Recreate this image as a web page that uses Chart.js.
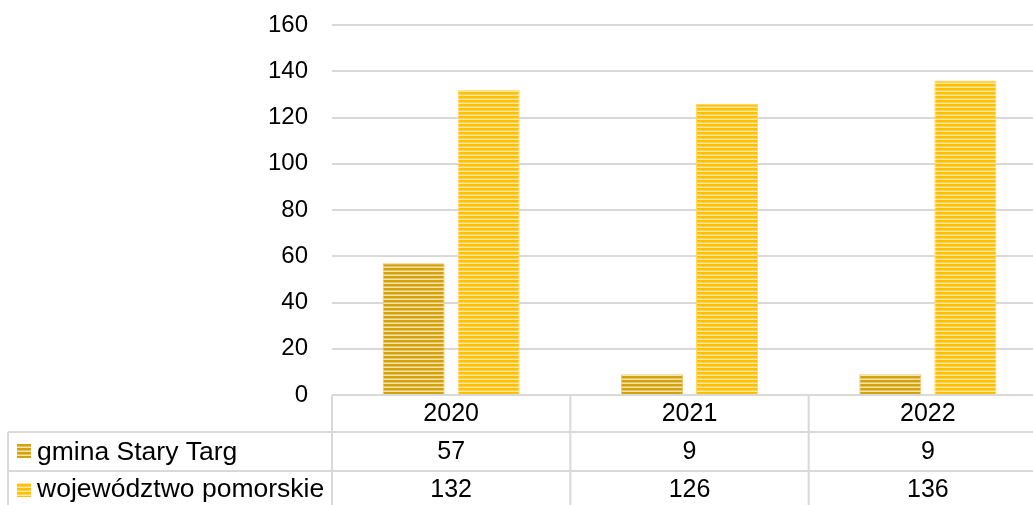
<!DOCTYPE html>
<html>
<head>
<meta charset="utf-8">
<script src="https://cdn.jsdelivr.net/npm/chart.js@4.4.1/dist/chart.umd.min.js"></script>
<style>
  html, body { margin: 0; padding: 0; background: #fff; overflow: hidden; }
  #wrap { width: 1048px; height: 505px; }
</style>
</head>
<body>
<div id="wrap"><canvas id="wykres" width="1048" height="505"></canvas></div>
<script>
// dane z wykresu
var lata = ['2020', '2021', '2022'];
var gminaNazwa = 'gmina Stary Targ';
var gmina = [57, 9, 9];
var wojNazwa = 'województwo pomorskie';
var wojewodztwo = [132, 126, 136];
var osMax = 160;
var osKrok = 20;

var czcionka = '"Liberation Sans", Arial, sans-serif';

// wzor paskow poziomych jak w Excelu
function paski(ciemny, sredni, jasny) {
  var c = document.createElement('canvas');
  c.width = 4; c.height = 4;
  var x = c.getContext('2d');
  x.fillStyle = ciemny; x.fillRect(0, 0, 4, 2);
  x.fillStyle = sredni; x.fillRect(0, 2, 4, 1);
  x.fillStyle = jasny; x.fillRect(0, 3, 4, 1);
  return document.getElementById('wykres').getContext('2d').createPattern(c, 'repeat');
}
var wzorGmina = paski('#D3A10E', '#E6C560', '#F4E2A8');
var wzorWoj = paski('#FFC000', '#FFD04D', '#FFE8A3');

var tabela = {
  id: 'tabela',
  afterDraw: function(chart) {
    var ctx = chart.ctx;
    var xs = chart.scales.x;
    var dol = chart.chartArea.bottom;
    var lewy = chart.chartArea.left;
    var prawy = chart.chartArea.right;
    var pol = (xs.getPixelForValue(1) - xs.getPixelForValue(0)) / 2;
    var r1 = dol + 37, r2 = dol + 76, koniec = chart.height + 5;
    ctx.save();
    ctx.strokeStyle = '#D9D9D9';
    ctx.lineWidth = 2;
    ctx.beginPath();
    ctx.moveTo(lewy, dol); ctx.lineTo(prawy, dol);
    ctx.moveTo(8, r1); ctx.lineTo(prawy, r1);
    ctx.moveTo(8, r2); ctx.lineTo(prawy, r2);
    ctx.moveTo(8, r1); ctx.lineTo(8, koniec);
    for (var i = 0; i < lata.length; i++) {
      var xl = xs.getPixelForValue(i) - pol;
      ctx.moveTo(xl, dol); ctx.lineTo(xl, koniec);
    }
    ctx.moveTo(prawy, dol); ctx.lineTo(prawy, koniec);
    ctx.stroke();

    ctx.fillStyle = '#000';
    ctx.font = '25px ' + czcionka;
    ctx.textBaseline = 'middle';
    ctx.textAlign = 'center';
    for (var j = 0; j < lata.length; j++) {
      var xc = xs.getPixelForValue(j);
      ctx.fillText(lata[j], xc, (dol + r1) / 2 + 1);
      ctx.fillText(String(gmina[j]), xc, (r1 + r2) / 2 + 1);
      ctx.fillText(String(wojewodztwo[j]), xc, r2 + 19);
    }
    ctx.textAlign = 'left';
    ctx.font = '26.5px ' + czcionka;
    ctx.fillText(gminaNazwa, 37, (r1 + r2) / 2 + 1);
    ctx.fillText(wojNazwa, 37, r2 + 19);
    ctx.fillStyle = wzorGmina;
    ctx.fillRect(17, r1 + 12, 14, 14);
    ctx.fillStyle = wzorWoj;
    ctx.fillRect(17, r2 + 12, 14, 14);
    ctx.restore();
  }
};

new Chart(document.getElementById('wykres'), {
  type: 'bar',
  data: {
    labels: lata,
    datasets: [
      { label: gminaNazwa, data: gmina, backgroundColor: wzorGmina, borderColor: '#EBCB6E', borderWidth: 1,
        categoryPercentage: 0.63, barPercentage: 0.827 },
      { label: wojNazwa, data: wojewodztwo, backgroundColor: wzorWoj, borderColor: '#FFD966', borderWidth: 1,
        categoryPercentage: 0.63, barPercentage: 0.827 }
    ]
  },
  options: {
    responsive: false,
    animation: false,
    devicePixelRatio: 1,
    layout: { padding: { left: 0, right: 1, top: 25, bottom: 110 } },
    plugins: { legend: { display: false }, tooltip: { enabled: false } },
    scales: {
      x: { display: false, offset: true },
      y: {
        min: 0, max: osMax,
        afterFit: function(s) { s.width = 332; s.paddingTop = 0; s.paddingBottom = 0; },
        border: { display: false },
        grid: { color: '#D9D9D9', lineWidth: 2, drawTicks: false },
        ticks: { stepSize: osKrok, padding: 24, color: '#000', font: { family: czcionka, size: 24 } }
      }
    }
  },
  plugins: [tabela]
});
</script>
</body>
</html>
